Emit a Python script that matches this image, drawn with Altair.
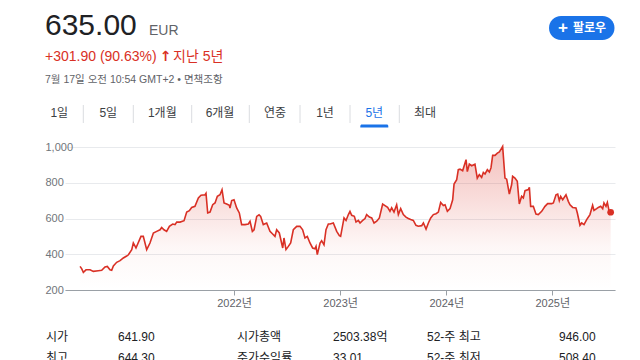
import altair as alt
import pandas as pd

# ---------------- data ----------------
YEARS = [
    2020.549, 2020.565, 2020.580, 2020.605, 2020.643, 2020.674, 2020.721, 2020.753,
    2020.784, 2020.806, 2020.831, 2020.847, 2020.863, 2020.894, 2020.926, 2020.957,
    2020.988, 2021.005, 2021.036, 2021.051, 2021.076, 2021.123, 2021.145, 2021.177,
    2021.208, 2021.240, 2021.271, 2021.303, 2021.318, 2021.340, 2021.365, 2021.391,
    2021.422, 2021.444, 2021.460, 2021.491, 2021.529, 2021.554, 2021.579, 2021.601,
    2021.632, 2021.664, 2021.689, 2021.727, 2021.736, 2021.752, 2021.774, 2021.799,
    2021.821, 2021.843, 2021.868, 2021.887, 2021.906, 2021.931, 2021.956, 2021.962,
    2021.978, 2022.000, 2022.025, 2022.050, 2022.072, 2022.104, 2022.135, 2022.151,
    2022.173, 2022.189, 2022.214, 2022.236, 2022.251, 2022.276, 2022.308, 2022.339,
    2022.364, 2022.386, 2022.402, 2022.427, 2022.459, 2022.471, 2022.490, 2022.512,
    2022.534, 2022.559, 2022.591, 2022.622, 2022.647, 2022.669, 2022.691, 2022.716,
    2022.741, 2022.763, 2022.773, 2022.785, 2022.811, 2022.826, 2022.848, 2022.867,
    2022.889, 2022.905, 2022.936, 2022.968, 2022.993, 2023.005, 2023.037, 2023.056,
    2023.078, 2023.093, 2023.109, 2023.134, 2023.150, 2023.172, 2023.188, 2023.213,
    2023.235, 2023.250, 2023.276, 2023.298, 2023.320, 2023.345, 2023.370, 2023.401,
    2023.423, 2023.448, 2023.470, 2023.486, 2023.508, 2023.533, 2023.549, 2023.571,
    2023.596, 2023.621, 2023.643, 2023.665, 2023.690, 2023.715, 2023.737, 2023.769,
    2023.785, 2023.810, 2023.832, 2023.854, 2023.879, 2023.904, 2023.926, 2023.948,
    2023.973, 2023.989, 2024.011, 2024.036, 2024.061, 2024.074, 2024.099, 2024.114,
    2024.130, 2024.155, 2024.187, 2024.199, 2024.218, 2024.240, 2024.271, 2024.293,
    2024.312, 2024.334, 2024.350, 2024.366, 2024.388, 2024.407, 2024.422, 2024.438,
    2024.460, 2024.482, 2024.501, 2024.523, 2024.532, 2024.554, 2024.570, 2024.595,
    2024.617, 2024.626, 2024.648, 2024.670, 2024.689, 2024.711, 2024.727, 2024.743,
    2024.774, 2024.784, 2024.796, 2024.821, 2024.846, 2024.868, 2024.900, 2024.931,
    2024.956, 2024.994, 2025.010, 2025.035, 2025.051, 2025.066, 2025.079, 2025.098,
    2025.129, 2025.151, 2025.167, 2025.192, 2025.223, 2025.236, 2025.261, 2025.277,
    2025.299, 2025.324, 2025.355, 2025.380, 2025.393, 2025.418, 2025.434, 2025.456,
    2025.475, 2025.487, 2025.506, 2025.519, 2025.534, 2025.550,
]
PRICES = [
    332, 318, 299, 313, 313, 304, 308, 310,
    329, 332, 313, 310, 335, 355, 364, 379,
    390, 397, 425, 463, 435, 500, 500, 426,
    463, 519, 528, 537, 550, 537, 528, 556,
    569, 566, 580, 580, 588, 636, 644, 662,
    668, 715, 730, 733, 741, 631, 636, 677,
    687, 724, 733, 761, 687, 681, 674, 659,
    700, 705, 659, 631, 566, 566, 569, 584,
    528, 537, 612, 621, 612, 566, 575, 528,
    513, 500, 537, 519, 435, 491, 426, 444,
    463, 537, 556, 556, 537, 491, 500, 463,
    435, 431, 444, 398, 463, 476, 453, 537,
    569, 569, 575, 528, 504, 500, 603, 589,
    622, 640, 618, 612, 580, 589, 575, 589,
    600, 622, 608, 603, 575, 585, 603, 681,
    672, 662, 640, 660, 636, 677, 622, 655,
    622, 608, 600, 594, 589, 562, 557, 560,
    575, 541, 575, 603, 622, 627, 636, 690,
    673, 677, 640, 655, 705, 793, 817, 873,
    876, 867, 929, 862, 904, 895, 904, 826,
    845, 830, 858, 849, 873, 860, 883, 953,
    953, 966, 972, 994, 1003, 826, 820, 737,
    790, 836, 826, 808, 681, 724, 715, 756,
    762, 775, 668, 668, 625, 622, 640, 668,
    683, 683, 687, 733, 737, 700, 724, 705,
    733, 696, 677, 662, 659, 631, 562, 575,
    566, 594, 622, 674, 645, 655, 662, 668,
    655, 687, 668, 690, 645, 635,
]
X_TICKS = [2022, 2023, 2024, 2025]
Y_TICKS = [200, 400, 600, 800, 1000]

PRICE_TEXT = "635.00"
CURRENCY = "EUR"
CHANGE_TEXT = "+301.90 (90.63%)"
PERIOD_TEXT = "지난 5년"
DATE_TEXT = "7월 17일 오전 10:54 GMT+2 • 면책조항"
FOLLOW_TEXT = "팔로우"
TABS = ["1일", "5일", "1개월", "6개월", "연중", "1년", "5년", "최대"]
ACTIVE_TAB = "5년"
STAT_ROW1 = ["시가", "641.90", "시가총액", "2503.38억", "52-주 최고", "946.00"]
STAT_ROW2 = ["최고", "644.30", "주가수익률", "33.01", "52-주 최저", "508.40"]

# ---------------- layout (pixels relative to the plot area) ----------------
W, H = 550, 143
FONT = "Liberation Sans, Noto Sans CJK KR, sans-serif"
RED = "#d93025"
BLUE = "#1a73e8"
TAB_X = [-5.7, 43.3, 97.3, 155, 210, 260, 309.3, 360]
SEP_X = [18.3, 68.3, 126.7, 184.3, 235, 285, 334.3]
STAT_X = [-19, 53, 172, 268, 362, 494]

df = pd.DataFrame({"year": YEARS, "price": PRICES})
last = df.tail(1)

xs = alt.Scale(domain=[2020.407, 2025.591], nice=False, zero=False)
ys = alt.Scale(domain=[200, 1000], nice=False, zero=False)

X_AXIS = alt.Axis(values=X_TICKS, labelExpr="datum.value + '년'", title="",
                  grid=False, domainColor="#9aa0a6", domainWidth=1.2,
                  tickColor="#9aa0a6", tickSize=5, labelFontSize=11,
                  labelColor="#5f6368", labelFont=FONT, labelPadding=2,
                  labelOverlap=False, zindex=1)
Y_AXIS = alt.Axis(values=Y_TICKS, format=",.0f", title="", domain=False,
                  ticks=False, tickSize=0, labelAlign="left",
                  labelPadding=20, labelFontSize=11, labelColor="#70757a",
                  labelFont=FONT, gridColor="#e8eaed", gridWidth=1,
                  labelOverlap=False, labelBaseline="middle")

X = alt.X("year:Q", scale=xs, axis=X_AXIS)
Y = alt.Y("price:Q", scale=ys, axis=Y_AXIS)

base = alt.Chart(df)

area = base.mark_area(
    color=alt.Gradient(
        gradient="linear",
        stops=[
            alt.GradientStop(color="rgba(217,48,37,0.30)", offset=0),
            alt.GradientStop(color="rgba(217,48,37,0.04)", offset=0.7),
            alt.GradientStop(color="rgba(217,48,37,0.0)", offset=1),
        ],
        x1=1, x2=1, y1=0, y2=1,
    )
).encode(x=X, y=Y, y2=alt.datum(200))

line = base.mark_line(color=RED, strokeWidth=1.6).encode(x=X, y=Y)

dot = alt.Chart(last).mark_circle(color=RED, size=45, opacity=1).encode(x=X, y=Y)


def txt(text, x, y, size, color="#202124", weight="normal", align="left",
        baseline="alphabetic", font=FONT):
    return alt.Chart(pd.DataFrame({"t": [text]})).mark_text(
        fontSize=size, color=color, fontWeight=weight, align=align,
        baseline=baseline, font=font,
    ).encode(x=alt.value(x), y=alt.value(y), text="t:N")


layers = [area, line, dot]

# header
layers.append(txt(PRICE_TEXT, -20, -112, 30, "#202124"))
layers.append(txt(CURRENCY, 84, -112, 14, "#5f6368"))
layers.append(txt(CHANGE_TEXT, -20, -86, 14, RED))
layers.append(txt("↑", 100.5, -86, 14, RED, weight="bold", align="center",
                  font="DejaVu Sans, sans-serif"))
layers.append(txt(PERIOD_TEXT, 108, -86, 14, RED))
layers.append(txt(DATE_TEXT, -20, -64, 10.5, "#5f6368"))

# follow button
btn = alt.Chart(pd.DataFrame({"a": [0]})).mark_rect(
    color=BLUE, cornerRadius=12).encode(
    x=alt.value(484), x2=alt.value(549.5), y=alt.value(-131), y2=alt.value(-107))
layers.append(btn)
layers.append(txt("+", 498, -119, 17, "white", weight="bold", align="center",
                  baseline="middle"))
layers.append(txt(FOLLOW_TEXT, 524.5, -119, 12, "white", weight="bold",
                  align="center", baseline="middle"))

# tabs
for label, tx in zip(TABS, TAB_X):
    col = BLUE if label == ACTIVE_TAB else "#3c4043"
    layers.append(txt(label, tx, -34, 12, col, align="center", baseline="middle"))
seps = alt.Chart(pd.DataFrame({"sx": SEP_X})).mark_rule(
    color="#dadce0", strokeWidth=1).encode(
    x=alt.X("sx:Q", scale=None), y=alt.value(-42), y2=alt.value(-24))
layers.append(seps)
active_x = TAB_X[TABS.index(ACTIVE_TAB)]
underline = alt.Chart(pd.DataFrame({"a": [0]})).mark_rect(
    color=BLUE, cornerRadiusTopLeft=3, cornerRadiusTopRight=3).encode(
    x=alt.value(active_x - 14), x2=alt.value(active_x + 14),
    y=alt.value(-22.5), y2=alt.value(-19.5))
layers.append(underline)

# stats
for row, yy in ((STAT_ROW1, 194), (STAT_ROW2, 215)):
    for s, sx in zip(row, STAT_X):
        layers.append(txt(s, sx, yy, 12, "#202124"))

chart = alt.layer(*layers).properties(
    width=W, height=H,
    autosize=alt.AutoSizeParams(type="none"),
    padding={"left": 57, "top": 139, "right": 17, "bottom": 70},
    background="white",
).configure_view(stroke=None)

chart.save("out.html", embed_options={"renderer": "svg", "actions": False})
